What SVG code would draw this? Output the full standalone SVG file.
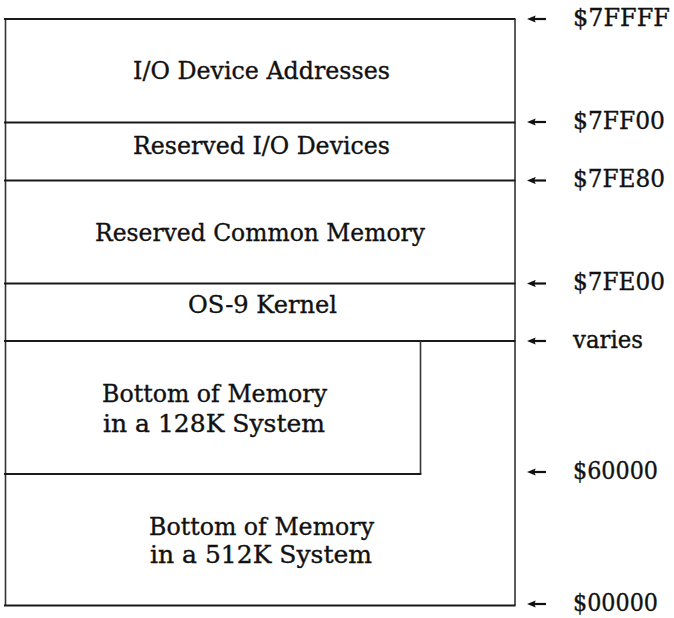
<svg xmlns="http://www.w3.org/2000/svg" width="674" height="618" viewBox="0 0 674 618">
<style>
  .ln { stroke: #1a1a1a; stroke-width: 2; fill: none; }
  .vl { stroke: #333; stroke-width: 1.6; fill: none; }
  .t { font-family: "DejaVu Serif", "Liberation Serif", serif; font-size: 23.5px; fill: #111; stroke: #111; stroke-width: 0.35; }
  .c { text-anchor: middle; }
  .arr { stroke: #111; stroke-width: 2.2; fill: none; marker-end: url(#ah); }
</style>
<defs>
  <marker id="ah" viewBox="0 0 10 8" refX="3" refY="4" markerWidth="9" markerHeight="7.2" orient="auto" markerUnits="userSpaceOnUse">
    <path d="M10,4 L0,0 L1.5,4 L0,8 Z" fill="#111"/>
  </marker>
</defs>
<rect width="674" height="618" fill="#fff"/>

<g id="memory-map-frame">
  <line class="vl" x1="5.5" y1="19" x2="5.5" y2="605.5"/>
  <line class="vl" x1="515" y1="19" x2="515" y2="605.5"/>
</g>

<g id="io-device-addresses">
  <line class="ln" x1="4" y1="19" x2="515.5" y2="19"/>
  <text class="t c" x="261.5" y="79" textLength="257" lengthAdjust="spacingAndGlyphs">I/O Device Addresses</text>
</g>

<g id="reserved-io-devices">
  <line class="ln" x1="4" y1="122.5" x2="515.5" y2="122.5"/>
  <text class="t c" x="261.5" y="154" textLength="257" lengthAdjust="spacingAndGlyphs">Reserved I/O Devices</text>
</g>

<g id="reserved-common-memory">
  <line class="ln" x1="4" y1="180.5" x2="515.5" y2="180.5"/>
  <text class="t c" x="260" y="241" textLength="330" lengthAdjust="spacingAndGlyphs">Reserved Common Memory</text>
</g>

<g id="os9-kernel">
  <line class="ln" x1="4" y1="283.5" x2="515.5" y2="283.5"/>
  <text class="t c" x="262.5" y="313" textLength="149" lengthAdjust="spacingAndGlyphs">OS-9 Kernel</text>
</g>

<g id="bottom-128k">
  <line class="ln" x1="4" y1="341" x2="515.5" y2="341"/>
  <line class="vl" x1="420.5" y1="341" x2="420.5" y2="474.5"/>
  <line class="ln" x1="4" y1="474" x2="421.3" y2="474"/>
  <text class="t c" x="214.5" y="402" textLength="225" lengthAdjust="spacingAndGlyphs">Bottom of Memory</text>
  <text class="t c" x="214" y="432" textLength="222" lengthAdjust="spacingAndGlyphs">in a 128K System</text>
</g>

<g id="bottom-512k">
  <line class="ln" x1="4" y1="605.5" x2="515.5" y2="605.5"/>
  <text class="t c" x="261.5" y="535" textLength="225" lengthAdjust="spacingAndGlyphs">Bottom of Memory</text>
  <text class="t c" x="261" y="563" textLength="222" lengthAdjust="spacingAndGlyphs">in a 512K System</text>
</g>

<g id="connectors">
  <line class="arr" x1="546" y1="19" x2="533" y2="19"/>
  <line class="arr" x1="546" y1="122" x2="533" y2="122"/>
  <line class="arr" x1="546" y1="180.5" x2="533" y2="180.5"/>
  <line class="arr" x1="546" y1="283.5" x2="533" y2="283.5"/>
  <line class="arr" x1="546" y1="341" x2="533" y2="341"/>
  <line class="arr" x1="546" y1="472" x2="533" y2="472"/>
  <line class="arr" x1="546" y1="604" x2="533" y2="604"/>
</g>

<g id="address-labels">
  <text class="t" x="573" y="26" textLength="97" lengthAdjust="spacingAndGlyphs">$7FFFF</text>
  <text class="t" x="573" y="129" textLength="92" lengthAdjust="spacingAndGlyphs">$7FF00</text>
  <text class="t" x="573" y="187" textLength="92" lengthAdjust="spacingAndGlyphs">$7FE80</text>
  <text class="t" x="573" y="290" textLength="92" lengthAdjust="spacingAndGlyphs">$7FE00</text>
  <text class="t" x="573" y="348" textLength="70" lengthAdjust="spacingAndGlyphs">varies</text>
  <text class="t" x="573" y="479" textLength="85" lengthAdjust="spacingAndGlyphs">$60000</text>
  <text class="t" x="573" y="611" textLength="85" lengthAdjust="spacingAndGlyphs">$00000</text>
</g>
</svg>
